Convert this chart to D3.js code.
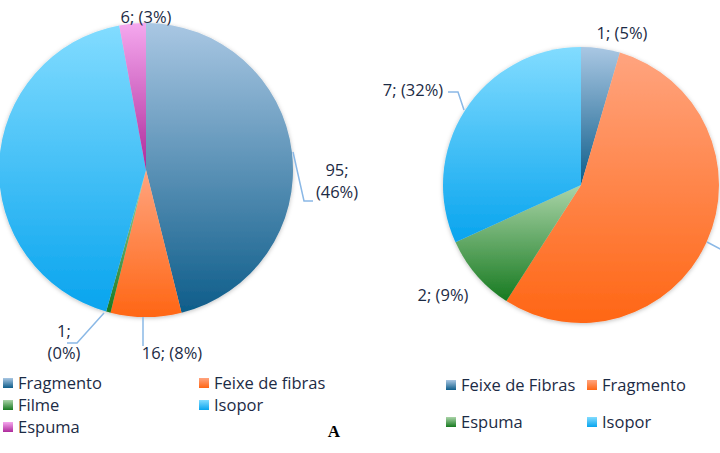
<!DOCTYPE html>
<html>
<head>
<meta charset="utf-8">
<script src="https://cdn.jsdelivr.net/npm/d3@7"></script>
<style>
  body { margin: 0; background: #fff; }
  svg { display: block; font-family: 'Open Sans', sans-serif; }
  .lbl { font-size: 16.5px; fill: #1c2b45; }
  .leg { font-size: 16.5px; fill: #1c2b45; }
</style>
</head>
<body>
<div id="chart"></div>
<script>
var width = 720
var height = 453

// left chart (A)
var leftCategories = ['Fragmento', 'Feixe de fibras', 'Filme', 'Isopor', 'Espuma']
var leftValues = [95, 16, 1, 88, 6]
var leftLabels = ['95;|(46%)', '16; (8%)', '1;|(0%)', '88; (43%)', '6; (3%)']

// right chart
var rightCategories = ['Feixe de Fibras', 'Fragmento', 'Espuma', 'Isopor']
var rightValues = [1, 12, 2, 7]
var rightLabels = ['1; (5%)', '12; (55%)', '2; (9%)', '7; (32%)']

// gradient stops by series slot: [top, bottom]
var palette = [
    ['#a9c7e3', '#0e5d8a'],
    ['#ffa47f', '#ff6614'],
    ['#aad4a8', '#177a20'],
    ['#82dcff', '#08a4ee'],
    ['#f5a8ee', '#ae2a9b']
]

var svg = d3.select('#chart').append('svg')
    .attr('width', width)
    .attr('height', height)

var defs = svg.append('defs')

palette.forEach(function(p, i) {
    var g = defs.append('linearGradient')
        .attr('id', 'grad' + i)
        .attr('x1', 0).attr('y1', 0)
        .attr('x2', 0).attr('y2', 1)
    g.append('stop').attr('offset', '0%').attr('stop-color', p[0])
    g.append('stop').attr('offset', '100%').attr('stop-color', p[1])
})

var shadow = defs.append('filter').attr('id', 'shadow')
    .attr('x', '-10%').attr('y', '-10%').attr('width', '120%').attr('height', '120%')
shadow.append('feDropShadow')
    .attr('dx', 0).attr('dy', 1).attr('stdDeviation', 2)
    .attr('flood-color', '#000').attr('flood-opacity', 0.25)

var pie = d3.pie().sort(null).value(function(d) { return d })

// labels whose text falls outside the frame in the original are left out
function drawPie(cx, cy, r, values, labels, labelPos) {
    var g = svg.append('g').attr('transform', 'translate(' + cx + ',' + cy + ')')
    var arc = d3.arc().innerRadius(0).outerRadius(r)
    var arcs = pie(values)

    g.append('g').attr('filter', 'url(#shadow)')
        .selectAll('path')
        .data(arcs)
        .enter().append('path')
        .attr('d', arc)
        .attr('fill', function(d, i) { return 'url(#grad' + i + ')' })

    arcs.forEach(function(d, i) {
        var lp = labelPos[i]
        if (!lp) return
        if (lp.line) {
            svg.append('polyline')
                .attr('points', lp.line.map(function(p) { return p.join(',') }).join(' '))
                .attr('fill', 'none')
                .attr('stroke', '#8ab8e6')
                .attr('stroke-width', 1.5)
        }
        if (lp.hidden) return
        var lines = labels[i].split('|')
        var t = svg.append('text').attr('class', 'lbl')
            .attr('text-anchor', 'middle')
        lines.forEach(function(s, k) {
            t.append('tspan')
                .attr('x', lp.x)
                .attr('y', lp.y + k * 22)
                .text(s)
        })
    })
}

drawPie(146, 170, 147, leftValues, leftLabels, [
    { x: 337, y: 176, line: [[293, 152], [304, 201], [313, 201]] },
    { x: 172, y: 359, line: [[143, 317], [143, 346]] },
    { x: 64, y: 337, line: [[104, 313], [77, 343], [67, 343]] },
    { hidden: true },
    { x: 146, y: 23 }
])

drawPie(581, 185, 138, rightValues, rightLabels, [
    { x: 622, y: 39 },
    { hidden: true, line: [[707, 242], [722, 250]] },
    { x: 443, y: 301 },
    { x: 413, y: 96, line: [[448, 92], [458, 92], [464, 110]] }
])

function drawLegend(items, positions) {
    items.forEach(function(name, i) {
        var p = positions[i]
        svg.append('rect')
            .attr('x', p[0]).attr('y', p[1] - 5)
            .attr('width', 10).attr('height', 10)
            .attr('fill', 'url(#grad' + p[2] + ')')
        svg.append('text').attr('class', 'leg')
            .attr('x', p[0] + 15).attr('y', p[1] + 6)
            .text(name)
    })
}

drawLegend(leftCategories, [
    [3, 383, 0], [199, 383, 1], [3, 405, 2], [199, 405, 3], [3, 427, 4]
])
drawLegend(rightCategories, [
    [446, 385, 0], [587, 385, 1], [446, 422, 2], [587, 422, 3]
])

svg.append('text')
    .attr('x', 334).attr('y', 437)
    .attr('text-anchor', 'middle')
    .style('font-family', "'Liberation Serif', serif")
    .style('font-weight', 'bold')
    .style('font-size', '17px')
    .text('A')
</script>
</body>
</html>
